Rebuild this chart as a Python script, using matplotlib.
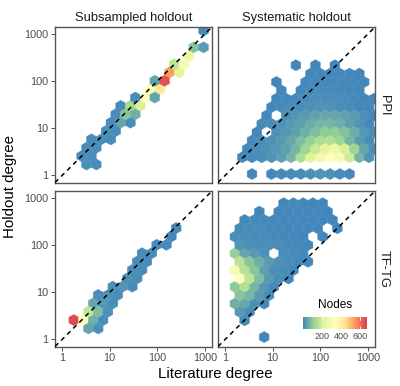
import matplotlib.pyplot as plt
import numpy as np
from matplotlib.colors import LinearSegmentedColormap
from matplotlib.ticker import NullLocator

plt.rcParams['font.family'] = ['Liberation Sans', 'DejaVu Sans']

# hexagon grid of log10 degrees
bin_w = 0.205
row_h = bin_w * np.sqrt(3) / 2

# binned nodes per panel: row -> (first column, node counts), 0 = empty cell
ppi_sub_origin = (0.0, 0.055)
ppi_sub = {
    1: (2, [15, 10]),
    2: (2, [10, 12]),
    3: (2, [10, 12]),
    4: (3, [10, 12, 10]),
    5: (4, [12, 10]),
    6: (5, [10, 50, 10]),
    7: (5, [10, 90, 60]),
    8: (6, [10, 130, 210]),
    9: (7, [10, 330, 45]),
    10: (9, [320, 420]),
    11: (9, [45, 640]),
    12: (11, [540, 230]),
    13: (11, [170, 300]),
    14: (13, [250]),
    15: (13, [90, 30]),
    17: (14, [10]),
}

ppi_sys_origin = (-0.05, 0.03)
ppi_sys = {
    0: (3, [5, 0, 5, 8, 10, 12, 15, 20, 18, 12, 8]),
    2: (2, [5, 8, 12, 20, 35, 70, 140, 220, 280, 320, 300, 190, 70, 20]),
    3: (2, [6, 10, 15, 25, 40, 70, 120, 180, 230, 260, 210, 120, 45, 12]),
    4: (3, [8, 12, 18, 30, 50, 80, 110, 140, 150, 120, 70, 30, 10]),
    5: (3, [6, 0, 15, 25, 40, 60, 80, 100, 105, 85, 55, 25, 10]),
    6: (4, [8, 12, 18, 28, 40, 55, 70, 70, 60, 40, 20, 8]),
    7: (4, [6, 0, 15, 22, 32, 42, 50, 50, 42, 30, 15, 6]),
    8: (5, [6, 8, 10, 14, 18, 20, 18, 14, 10, 6, 4]),
    9: (5, [4, 6, 8, 10, 12, 14, 12, 10, 7, 4, 2]),
    10: (6, [3, 0, 6, 8, 10, 10, 8, 6, 4]),
    11: (5, [2, 0, 0, 4, 6, 7, 7, 6, 4, 2]),
    12: (9, [4, 5, 6, 5, 4, 3]),
    13: (7, [2, 0, 3, 0, 3]),
}

tftg_sub_origin = (0.04, 0.055)
tftg_sub = {
    1: (2, [45, 15]),
    2: (1, [650, 330, 60, 12]),
    3: (2, [170, 80, 15]),
    4: (3, [50, 25, 10]),
    5: (3, [12, 20, 12]),
    6: (5, [15, 20, 10]),
    7: (6, [15, 12]),
    8: (7, [12, 10]),
    9: (7, [10, 10]),
    10: (8, [10, 10]),
    11: (9, [8, 8]),
    12: (11, [6]),
    13: (11, [5]),
}

tftg_sys_origin = (0.0, 0.05)
tftg_sys = {
    0: (4, [3]),
    2: (2, [10]),
    3: (1, [30, 12]),
    4: (1, [60, 50, 15, 8]),
    5: (1, [90, 70, 30, 10]),
    6: (1, [100, 150, 70, 25, 8]),
    7: (1, [320, 170, 80, 30, 12, 6]),
    8: (1, [290, 160, 90, 40, 15, 10, 5]),
    9: (1, [160, 90, 60, 30, 15, 10, 6, 4]),
    10: (1, [110, 50, 30, 15, 0, 10, 8, 5]),
    11: (1, [20, 15, 12, 12, 10, 8, 6, 4]),
    12: (1, [12, 12, 10, 10, 8, 6, 5, 3, 0, 3]),
    13: (1, [8, 10, 10, 8, 8, 6, 5, 4, 3, 0, 3]),
    14: (2, [6, 8, 8, 8, 6, 6, 5, 4, 3, 3]),
    15: (3, [3, 0, 5, 6, 6, 5, 4, 3]),
    16: (6, [3, 4, 4, 3, 3]),
}

col_titles = ['Subsampled holdout', 'Systematic holdout']
row_titles = ['PPI', 'TF-TG']
tick_vals = [1, 10, 100, 1000]
tick_labels = ['1', '10', '100', '1000']
node_ticks = [200, 400, 600]
node_max = 670

cmap = LinearSegmentedColormap.from_list(
    'spectral_r', ['#4286BC', '#99D594', '#E6F598', '#FFFFBF',
                   '#FEE08B', '#FC8D59', '#D53E4F'])


def hex_points(rows, origin):
    lit, hold, nodes = [], [], []
    for r, (k0, counts) in rows.items():
        for i, n in enumerate(counts):
            if n == 0:
                continue
            lit.append(origin[0] + bin_w * (k0 + i + 0.5 * (r % 2)))
            hold.append(origin[1] + row_h * r)
            nodes.append(n)
    return 10 ** np.array(lit), 10 ** np.array(hold), np.array(nodes)


W, H = 400, 386
fig = plt.figure(figsize=(W / 100, H / 100), dpi=100)


def px_axes(x, y, w, h):
    return fig.add_axes([x / W, 1 - (y + h) / H, w / W, h / H])


lefts = [55, 218]
tops = [27, 191]
pw, ph = 157, 155.5
lo, hi = 10 ** -0.15, 10 ** 3.15

panels = [[(ppi_sub, ppi_sub_origin), (ppi_sys, ppi_sys_origin)],
          [(tftg_sub, tftg_sub_origin), (tftg_sys, tftg_sys_origin)]]

for i in range(2):
    for j in range(2):
        rows, origin = panels[i][j]
        ax = px_axes(lefts[j], tops[i], pw, ph)
        x, y, n = hex_points(rows, origin)
        hb = ax.hexbin(x, y, C=n, reduce_C_function=np.sum, gridsize=(16, 9),
                       extent=(origin[0], origin[0] + 16 * bin_w,
                               origin[1], origin[1] + 18 * row_h),
                       xscale='log', yscale='log', cmap=cmap, vmin=1,
                       vmax=node_max, linewidths=0.3, edgecolors='face')
        ax.plot([lo, hi], [lo, hi], color='black', lw=1.1,
                linestyle=(0, (3, 2.6)), zorder=3)
        ax.set_xlim(lo, hi)
        ax.set_ylim(lo, hi)
        ax.set_xticks(tick_vals)
        ax.set_yticks(tick_vals)
        ax.set_xticklabels(tick_labels)
        ax.set_yticklabels(tick_labels)
        ax.xaxis.set_minor_locator(NullLocator())
        ax.yaxis.set_minor_locator(NullLocator())
        ax.tick_params(labelsize=7.8, labelcolor='#4D4D4D', color='#333333',
                       length=3, width=0.6, pad=1.5)
        ax.tick_params(bottom=(i == 1), labelbottom=(i == 1),
                       left=(j == 0), labelleft=(j == 0))
        for s in ax.spines.values():
            s.set_color('#555555')
            s.set_linewidth(1.0)
        if i == 0:
            fig.text((lefts[j] + pw / 2) / W, 1 - 17.5 / H, col_titles[j],
                     ha='center', va='center', fontsize=9.3, color='#1A1A1A')
        if j == 1:
            fig.text(384 / W, 1 - (tops[i] + ph / 2) / H, row_titles[i],
                     ha='center', va='center', rotation=270, fontsize=9.3,
                     color='#1A1A1A')

fig.text(10 / W, 1 - 187 / H, 'Holdout degree', rotation=90, ha='center',
         va='center', fontsize=10.8)
fig.text(215 / W, 1 - 374 / H, 'Literature degree', ha='center',
         va='center', fontsize=10.8)

cax = px_axes(303, 316.5, 64, 12.5)
cbar = fig.colorbar(hb, cax=cax, orientation='horizontal', ticks=node_ticks)
cbar.outline.set_visible(False)
cax.tick_params(labelsize=6.5, labelcolor='#4D4D4D', color='white',
                direction='in', length=2.5, width=0.6, pad=2, top=True)
fig.text(335 / W, 1 - 305.5 / H, 'Nodes', ha='center', va='center',
         fontsize=8.5)

fig.savefig('out.png', dpi=100)
